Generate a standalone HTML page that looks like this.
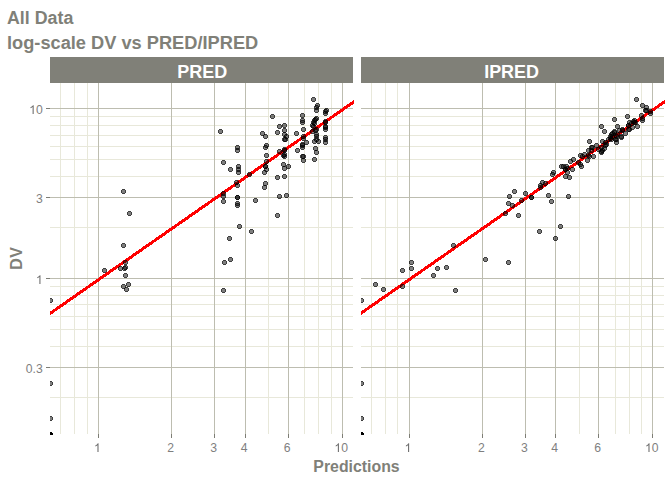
<!DOCTYPE html><html><head><meta charset="utf-8"><title>All Data</title><style>html,body{margin:0;padding:0;background:#fff}</style></head><body><svg width="672" height="480" viewBox="0 0 672 480" style="display:block;font-family:'Liberation Sans',sans-serif">
<rect width="672" height="480" fill="#fff"/>
<defs>
<clipPath id="c0"><rect x="50" y="83" width="304" height="352"/></clipPath>
<clipPath id="c1"><rect x="361" y="83" width="304" height="352"/></clipPath>
<g id="pt"><circle r="2.5" fill="#000" fill-opacity="0.5"/><circle r="2" fill="none" stroke="#000" stroke-opacity="0.5" stroke-width="1"/></g>
</defs>
<text x="7.0" y="24.3" font-size="17.6" font-weight="bold" fill="#808078" textLength="66.3" lengthAdjust="spacingAndGlyphs">All Data</text>
<text x="7.0" y="49.1" font-size="17.6" font-weight="bold" fill="#808078" textLength="251.2" lengthAdjust="spacingAndGlyphs">log-scale DV vs PRED/IPRED</text>
<rect x="50" y="57" width="303" height="26" fill="#808078" shape-rendering="crispEdges"/>
<text x="177.35" y="77.8" font-size="17.6" font-weight="bold" fill="#fff" textLength="50.0" lengthAdjust="spacingAndGlyphs">PRED</text>
<g shape-rendering="crispEdges" stroke-width="1" fill="none"><path d="M50 397.5H353M50 346.5H353M50 329.5H353M50 316.5H353M50 304.5H353M50 295.5H353M50 286.5H353M50 227.5H353M50 176.5H353M50 159.5H353M50 146.5H353M50 135.5H353M50 125.5H353M50 116.5H353M60.5 83V434M74.5 83V434M87.5 83V434M268.5 83V434M304.5 83V434M318.5 83V434M331.5 83V434" stroke="#e8e8da"/><path d="M50 367.5H353M50 278.5H353M50 197.5H353M50 108.5H353M98.5 83V434M171.5 83V434M214.5 83V434M245.5 83V434M288.5 83V434M342.5 83V434" stroke="#bdbdb0"/><path d="M98.5 434v4M171.5 434v4M214.5 434v4M245.5 434v4M288.5 434v4M342.5 434v4M46 367.5h4M46 278.5h4M46 197.5h4M46 108.5h4" stroke="#7d7d75"/></g>
<path transform="translate(93.98 452.00) scale(0.00596 -0.00596)" d="M763 0H583V1147Q518 1085 412.5 1023Q307 961 223 930V1104Q374 1175 487 1276Q600 1377 647 1472H763Z" fill="#6c6c6c"/>
<text x="167.37" y="452.00" font-size="12.2" fill="#7f7f7f">2</text>
<text x="210.30" y="452.00" font-size="12.2" fill="#7f7f7f">3</text>
<text x="240.75" y="452.00" font-size="12.2" fill="#7f7f7f">4</text>
<text x="283.68" y="452.00" font-size="12.2" fill="#7f7f7f">6</text>
<path transform="translate(334.38 452.00) scale(0.00596 -0.00596)" d="M763 0H583V1147Q518 1085 412.5 1023Q307 961 223 930V1104Q374 1175 487 1276Q600 1377 647 1472H763Z" fill="#6c6c6c"/><text x="341.16" y="452.00" font-size="12.2" fill="#7f7f7f">0</text>
<g clip-path="url(#c0)">
<path transform="translate(0 1.1)" d="M45 315.86L358 97.83" stroke="#ff0000" stroke-width="3" shape-rendering="crispEdges"/>
<g shape-rendering="crispEdges"><use href="#pt" x="50.5" y="300.5"/><use href="#pt" x="223.5" y="201.5"/><use href="#pt" x="285.5" y="139.5"/><use href="#pt" x="317.5" y="105.5"/><use href="#pt" x="325.5" y="111.5"/><use href="#pt" x="314.5" y="120.5"/><use href="#pt" x="302.5" y="122.5"/><use href="#pt" x="284.5" y="130.5"/><use href="#pt" x="265.5" y="136.5"/><use href="#pt" x="237.5" y="147.5"/><use href="#pt" x="123.5" y="191.5"/><use href="#pt" x="50.5" y="434.5"/><use href="#pt" x="229.5" y="238.5"/><use href="#pt" x="279.5" y="126.5"/><use href="#pt" x="313.5" y="122.5"/><use href="#pt" x="325.5" y="122.5"/><use href="#pt" x="316.5" y="136.5"/><use href="#pt" x="302.5" y="145.5"/><use href="#pt" x="284.5" y="154.5"/><use href="#pt" x="265.5" y="166.5"/><use href="#pt" x="237.5" y="197.5"/><use href="#pt" x="123.5" y="286.5"/><use href="#pt" x="50.5" y="434.5"/><use href="#pt" x="230.5" y="169.5"/><use href="#pt" x="286.5" y="136.5"/><use href="#pt" x="314.5" y="123.5"/><use href="#pt" x="325.5" y="127.5"/><use href="#pt" x="315.5" y="130.5"/><use href="#pt" x="302.5" y="144.5"/><use href="#pt" x="283.5" y="155.5"/><use href="#pt" x="266.5" y="161.5"/><use href="#pt" x="236.5" y="182.5"/><use href="#pt" x="125.5" y="275.5"/><use href="#pt" x="50.5" y="434.5"/><use href="#pt" x="251.5" y="231.5"/><use href="#pt" x="288.5" y="166.5"/><use href="#pt" x="315.5" y="119.5"/><use href="#pt" x="325.5" y="121.5"/><use href="#pt" x="316.5" y="129.5"/><use href="#pt" x="303.5" y="136.5"/><use href="#pt" x="284.5" y="149.5"/><use href="#pt" x="266.5" y="155.5"/><use href="#pt" x="238.5" y="172.5"/><use href="#pt" x="120.5" y="268.5"/><use href="#pt" x="50.5" y="434.5"/><use href="#pt" x="239.5" y="226.5"/><use href="#pt" x="279.5" y="151.5"/><use href="#pt" x="313.5" y="99.5"/><use href="#pt" x="325.5" y="113.5"/><use href="#pt" x="316.5" y="118.5"/><use href="#pt" x="303.5" y="129.5"/><use href="#pt" x="284.5" y="134.5"/><use href="#pt" x="265.5" y="147.5"/><use href="#pt" x="238.5" y="169.5"/><use href="#pt" x="123.5" y="245.5"/><use href="#pt" x="50.5" y="434.5"/><use href="#pt" x="230.5" y="259.5"/><use href="#pt" x="286.5" y="195.5"/><use href="#pt" x="318.5" y="141.5"/><use href="#pt" x="325.5" y="142.5"/><use href="#pt" x="316.5" y="152.5"/><use href="#pt" x="303.5" y="160.5"/><use href="#pt" x="284.5" y="176.5"/><use href="#pt" x="264.5" y="187.5"/><use href="#pt" x="237.5" y="203.5"/><use href="#pt" x="128.5" y="284.5"/><use href="#pt" x="50.5" y="418.5"/><use href="#pt" x="223.5" y="290.5"/><use href="#pt" x="277.5" y="215.5"/><use href="#pt" x="314.5" y="159.5"/><use href="#pt" x="325.5" y="139.5"/><use href="#pt" x="316.5" y="134.5"/><use href="#pt" x="303.5" y="138.5"/><use href="#pt" x="284.5" y="156.5"/><use href="#pt" x="266.5" y="169.5"/><use href="#pt" x="237.5" y="185.5"/><use href="#pt" x="124.5" y="268.5"/><use href="#pt" x="50.5" y="434.5"/><use href="#pt" x="223.5" y="196.5"/><use href="#pt" x="279.5" y="196.5"/><use href="#pt" x="312.5" y="131.5"/><use href="#pt" x="325.5" y="129.5"/><use href="#pt" x="316.5" y="139.5"/><use href="#pt" x="302.5" y="147.5"/><use href="#pt" x="283.5" y="164.5"/><use href="#pt" x="265.5" y="166.5"/><use href="#pt" x="237.5" y="197.5"/><use href="#pt" x="125.5" y="262.5"/><use href="#pt" x="50.5" y="434.5"/><use href="#pt" x="220.5" y="131.5"/><use href="#pt" x="272.5" y="116.5"/><use href="#pt" x="296.5" y="133.5"/><use href="#pt" x="306.5" y="142.5"/><use href="#pt" x="297.5" y="150.5"/><use href="#pt" x="284.5" y="150.5"/><use href="#pt" x="264.5" y="172.5"/><use href="#pt" x="249.5" y="174.5"/><use href="#pt" x="223.5" y="193.5"/><use href="#pt" x="104.5" y="270.5"/><use href="#pt" x="50.5" y="383.5"/><use href="#pt" x="255.5" y="200.5"/><use href="#pt" x="302.5" y="156.5"/><use href="#pt" x="314.5" y="141.5"/><use href="#pt" x="325.5" y="126.5"/><use href="#pt" x="316.5" y="107.5"/><use href="#pt" x="302.5" y="115.5"/><use href="#pt" x="284.5" y="125.5"/><use href="#pt" x="262.5" y="133.5"/><use href="#pt" x="237.5" y="150.5"/><use href="#pt" x="129.5" y="213.5"/><use href="#pt" x="50.5" y="434.5"/><use href="#pt" x="223.5" y="162.5"/><use href="#pt" x="277.5" y="132.5"/><use href="#pt" x="312.5" y="125.5"/><use href="#pt" x="325.5" y="137.5"/><use href="#pt" x="315.5" y="148.5"/><use href="#pt" x="303.5" y="156.5"/><use href="#pt" x="284.5" y="168.5"/><use href="#pt" x="265.5" y="183.5"/><use href="#pt" x="237.5" y="205.5"/><use href="#pt" x="126.5" y="289.5"/><use href="#pt" x="50.5" y="434.5"/><use href="#pt" x="224.5" y="262.5"/><use href="#pt" x="277.5" y="177.5"/><use href="#pt" x="313.5" y="126.5"/><use href="#pt" x="326.5" y="110.5"/><use href="#pt" x="316.5" y="110.5"/><use href="#pt" x="302.5" y="120.5"/><use href="#pt" x="284.5" y="139.5"/><use href="#pt" x="266.5" y="145.5"/><use href="#pt" x="238.5" y="166.5"/><use href="#pt" x="125.5" y="267.5"/></g>
</g>
<rect x="361" y="57" width="303" height="26" fill="#808078" shape-rendering="crispEdges"/>
<text x="484.15" y="77.8" font-size="17.6" font-weight="bold" fill="#fff" textLength="54.9" lengthAdjust="spacingAndGlyphs">IPRED</text>
<g shape-rendering="crispEdges" stroke-width="1" fill="none"><path d="M361 397.5H664M361 346.5H664M361 329.5H664M361 316.5H664M361 304.5H664M361 295.5H664M361 286.5H664M361 227.5H664M361 176.5H664M361 159.5H664M361 146.5H664M361 135.5H664M361 125.5H664M361 116.5H664M371.5 83V434M385.5 83V434M397.5 83V434M579.5 83V434M615.5 83V434M629.5 83V434M641.5 83V434" stroke="#e8e8da"/><path d="M361 367.5H664M361 278.5H664M361 197.5H664M361 108.5H664M409.5 83V434M482.5 83V434M525.5 83V434M555.5 83V434M598.5 83V434M652.5 83V434" stroke="#bdbdb0"/><path d="M409.5 434v4M482.5 434v4M525.5 434v4M555.5 434v4M598.5 434v4M652.5 434v4" stroke="#7d7d75"/></g>
<path transform="translate(404.58 452.00) scale(0.00596 -0.00596)" d="M763 0H583V1147Q518 1085 412.5 1023Q307 961 223 930V1104Q374 1175 487 1276Q600 1377 647 1472H763Z" fill="#6c6c6c"/>
<text x="477.97" y="452.00" font-size="12.2" fill="#7f7f7f">2</text>
<text x="520.90" y="452.00" font-size="12.2" fill="#7f7f7f">3</text>
<text x="551.35" y="452.00" font-size="12.2" fill="#7f7f7f">4</text>
<text x="594.28" y="452.00" font-size="12.2" fill="#7f7f7f">6</text>
<path transform="translate(644.98 452.00) scale(0.00596 -0.00596)" d="M763 0H583V1147Q518 1085 412.5 1023Q307 961 223 930V1104Q374 1175 487 1276Q600 1377 647 1472H763Z" fill="#6c6c6c"/><text x="651.76" y="452.00" font-size="12.2" fill="#7f7f7f">0</text>
<g clip-path="url(#c1)">
<path transform="translate(0 1.1)" d="M356 315.58L669 97.55" stroke="#ff0000" stroke-width="3" shape-rendering="crispEdges"/>
<g shape-rendering="crispEdges"><use href="#pt" x="361.5" y="300.5"/><use href="#pt" x="551.5" y="201.5"/><use href="#pt" x="611.5" y="139.5"/><use href="#pt" x="642.5" y="105.5"/><use href="#pt" x="650.5" y="111.5"/><use href="#pt" x="642.5" y="120.5"/><use href="#pt" x="635.5" y="122.5"/><use href="#pt" x="622.5" y="130.5"/><use href="#pt" x="610.5" y="136.5"/><use href="#pt" x="591.5" y="147.5"/><use href="#pt" x="514.5" y="191.5"/><use href="#pt" x="361.5" y="434.5"/><use href="#pt" x="555.5" y="238.5"/><use href="#pt" x="601.5" y="126.5"/><use href="#pt" x="629.5" y="122.5"/><use href="#pt" x="634.5" y="122.5"/><use href="#pt" x="621.5" y="136.5"/><use href="#pt" x="605.5" y="145.5"/><use href="#pt" x="584.5" y="154.5"/><use href="#pt" x="563.5" y="166.5"/><use href="#pt" x="531.5" y="197.5"/><use href="#pt" x="402.5" y="286.5"/><use href="#pt" x="361.5" y="434.5"/><use href="#pt" x="565.5" y="169.5"/><use href="#pt" x="612.5" y="136.5"/><use href="#pt" x="631.5" y="123.5"/><use href="#pt" x="632.5" y="127.5"/><use href="#pt" x="619.5" y="130.5"/><use href="#pt" x="606.5" y="144.5"/><use href="#pt" x="588.5" y="155.5"/><use href="#pt" x="570.5" y="161.5"/><use href="#pt" x="542.5" y="182.5"/><use href="#pt" x="433.5" y="275.5"/><use href="#pt" x="361.5" y="434.5"/><use href="#pt" x="539.5" y="231.5"/><use href="#pt" x="581.5" y="166.5"/><use href="#pt" x="614.5" y="119.5"/><use href="#pt" x="633.5" y="121.5"/><use href="#pt" x="628.5" y="129.5"/><use href="#pt" x="616.5" y="136.5"/><use href="#pt" x="598.5" y="149.5"/><use href="#pt" x="580.5" y="155.5"/><use href="#pt" x="553.5" y="172.5"/><use href="#pt" x="437.5" y="268.5"/><use href="#pt" x="361.5" y="434.5"/><use href="#pt" x="560.5" y="226.5"/><use href="#pt" x="601.5" y="151.5"/><use href="#pt" x="636.5" y="99.5"/><use href="#pt" x="650.5" y="113.5"/><use href="#pt" x="642.5" y="118.5"/><use href="#pt" x="629.5" y="129.5"/><use href="#pt" x="611.5" y="134.5"/><use href="#pt" x="592.5" y="147.5"/><use href="#pt" x="565.5" y="169.5"/><use href="#pt" x="453.5" y="245.5"/><use href="#pt" x="361.5" y="434.5"/><use href="#pt" x="485.5" y="259.5"/><use href="#pt" x="548.5" y="195.5"/><use href="#pt" x="589.5" y="141.5"/><use href="#pt" x="605.5" y="142.5"/><use href="#pt" x="601.5" y="152.5"/><use href="#pt" x="587.5" y="160.5"/><use href="#pt" x="565.5" y="176.5"/><use href="#pt" x="540.5" y="187.5"/><use href="#pt" x="508.5" y="203.5"/><use href="#pt" x="375.5" y="284.5"/><use href="#pt" x="361.5" y="418.5"/><use href="#pt" x="455.5" y="290.5"/><use href="#pt" x="518.5" y="215.5"/><use href="#pt" x="573.5" y="159.5"/><use href="#pt" x="608.5" y="139.5"/><use href="#pt" x="617.5" y="134.5"/><use href="#pt" x="610.5" y="138.5"/><use href="#pt" x="593.5" y="156.5"/><use href="#pt" x="572.5" y="169.5"/><use href="#pt" x="540.5" y="185.5"/><use href="#pt" x="411.5" y="268.5"/><use href="#pt" x="361.5" y="434.5"/><use href="#pt" x="509.5" y="196.5"/><use href="#pt" x="568.5" y="196.5"/><use href="#pt" x="604.5" y="131.5"/><use href="#pt" x="622.5" y="129.5"/><use href="#pt" x="615.5" y="139.5"/><use href="#pt" x="601.5" y="147.5"/><use href="#pt" x="580.5" y="164.5"/><use href="#pt" x="561.5" y="166.5"/><use href="#pt" x="531.5" y="197.5"/><use href="#pt" x="411.5" y="262.5"/><use href="#pt" x="361.5" y="434.5"/><use href="#pt" x="614.5" y="131.5"/><use href="#pt" x="627.5" y="116.5"/><use href="#pt" x="625.5" y="133.5"/><use href="#pt" x="616.5" y="142.5"/><use href="#pt" x="602.5" y="150.5"/><use href="#pt" x="588.5" y="150.5"/><use href="#pt" x="567.5" y="172.5"/><use href="#pt" x="552.5" y="174.5"/><use href="#pt" x="525.5" y="193.5"/><use href="#pt" x="402.5" y="270.5"/><use href="#pt" x="361.5" y="383.5"/><use href="#pt" x="521.5" y="200.5"/><use href="#pt" x="582.5" y="156.5"/><use href="#pt" x="602.5" y="141.5"/><use href="#pt" x="637.5" y="126.5"/><use href="#pt" x="646.5" y="107.5"/><use href="#pt" x="641.5" y="115.5"/><use href="#pt" x="628.5" y="125.5"/><use href="#pt" x="612.5" y="133.5"/><use href="#pt" x="591.5" y="150.5"/><use href="#pt" x="505.5" y="213.5"/><use href="#pt" x="361.5" y="434.5"/><use href="#pt" x="578.5" y="162.5"/><use href="#pt" x="614.5" y="132.5"/><use href="#pt" x="628.5" y="125.5"/><use href="#pt" x="621.5" y="137.5"/><use href="#pt" x="604.5" y="148.5"/><use href="#pt" x="589.5" y="156.5"/><use href="#pt" x="567.5" y="168.5"/><use href="#pt" x="545.5" y="183.5"/><use href="#pt" x="512.5" y="205.5"/><use href="#pt" x="383.5" y="289.5"/><use href="#pt" x="361.5" y="434.5"/><use href="#pt" x="508.5" y="262.5"/><use href="#pt" x="569.5" y="177.5"/><use href="#pt" x="617.5" y="126.5"/><use href="#pt" x="645.5" y="110.5"/><use href="#pt" x="646.5" y="110.5"/><use href="#pt" x="634.5" y="120.5"/><use href="#pt" x="616.5" y="139.5"/><use href="#pt" x="596.5" y="145.5"/><use href="#pt" x="566.5" y="166.5"/><use href="#pt" x="446.5" y="267.5"/></g>
</g>
<text x="25.74" y="372.90" font-size="12.2" fill="#7f7f7f">0</text><text x="32.53" y="372.90" font-size="12.2" fill="#7f7f7f">.</text><text x="35.92" y="372.90" font-size="12.2" fill="#7f7f7f">3</text>
<path transform="translate(35.92 283.90) scale(0.00596 -0.00596)" d="M763 0H583V1147Q518 1085 412.5 1023Q307 961 223 930V1104Q374 1175 487 1276Q600 1377 647 1472H763Z" fill="#6c6c6c"/>
<text x="35.92" y="202.90" font-size="12.2" fill="#7f7f7f">3</text>
<path transform="translate(29.13 113.90) scale(0.00596 -0.00596)" d="M763 0H583V1147Q518 1085 412.5 1023Q307 961 223 930V1104Q374 1175 487 1276Q600 1377 647 1472H763Z" fill="#6c6c6c"/><text x="35.92" y="113.90" font-size="12.2" fill="#7f7f7f">0</text>
<text x="356.5" y="471.6" font-size="16" font-weight="bold" fill="#808078" text-anchor="middle" textLength="86.3" lengthAdjust="spacingAndGlyphs">Predictions</text>
<text transform="translate(22.2 258.3) rotate(-90)" font-size="16" font-weight="bold" fill="#808078" text-anchor="middle" textLength="22.7" lengthAdjust="spacing">DV</text>
</svg></body></html>
